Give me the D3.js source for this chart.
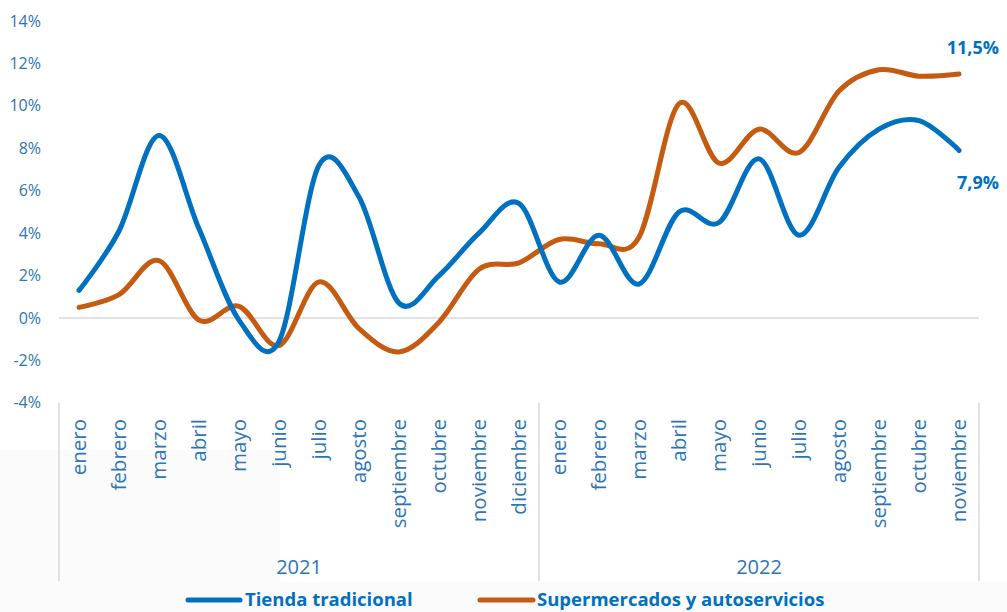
<!DOCTYPE html>
<html>
<head>
<meta charset="utf-8">
<script src="https://cdn.jsdelivr.net/npm/d3@7"></script>
<style>
    body { margin: 0; background: #fff; }
    text { font-family: "Open Sans", "Noto Sans", sans-serif; }
</style>
</head>
<body>
<script>
"use strict";

var months = ["enero", "febrero", "marzo", "abril", "mayo", "junio", "julio", "agosto",
              "septiembre", "octubre", "noviembre", "diciembre",
              "enero", "febrero", "marzo", "abril", "mayo", "junio", "julio", "agosto",
              "septiembre", "octubre", "noviembre"];
var years = ["2021", "2022"];
var yearCounts = [12, 11];

var tienda = [1.3, 4.1, 8.6, 4.2, -0.1, -1.1, 7.2, 5.7, 0.7, 2.0, 4.0, 5.4,
              1.7, 3.9, 1.6, 5.0, 4.5, 7.5, 3.9, 7.1, 8.9, 9.3, 7.9];
var superm = [0.5, 1.1, 2.7, -0.1, 0.55, -1.3, 1.7, -0.5, -1.6, -0.2, 2.3, 2.6,
              3.7, 3.5, 3.8, 10.1, 7.3, 8.9, 7.8, 10.7, 11.7, 11.4, 11.5];
var yTicks = [-4, -2, 0, 2, 4, 6, 8, 10, 12, 14];
var seriesNames = ["Tienda tradicional", "Supermercados y autoservicios"];
var endLabels = ["7,9%", "11,5%"];

var width = 1007,
    height = 612;

var blue = "#0070C0",
    orange = "#C55A11",
    axisText = "#2E75B6";

var svg = d3.select("body").append("svg")
    .attr("width", width)
    .attr("height", height);

// faint panel behind the lower left area
svg.append("rect").attr("x", 0).attr("y", 450).attr("width", 280).attr("height", 162).attr("fill", "#fbfbfb");
svg.append("rect").attr("x", 0).attr("y", 582).attr("width", width).attr("height", 30).attr("fill", "#fbfbfb");

var xScale = d3.scaleBand()
    .domain(d3.range(months.length))
    .range([59, 979]);

var yScale = d3.scaleLinear()
    .domain([-4, 14])
    .range([402.8, 21]);

function xc(i) {
    return xScale(i) + xScale.bandwidth() / 2;
}

// y labels
svg.append("g").selectAll("text")
    .data(yTicks)
    .enter().append("text")
        .attr("x", 41)
        .attr("y", function(d) { return yScale(d); })
        .attr("dy", "0.35em")
        .attr("text-anchor", "end")
        .attr("fill", axisText)
        .style("font-size", "16px")
        .text(function(d) { return d + "%"; });

// zero line
svg.append("line")
    .attr("x1", 59).attr("x2", 979)
    .attr("y1", yScale(0)).attr("y2", yScale(0))
    .attr("stroke", "#d9d9d9")
    .attr("stroke-width", 1.5);

// group dividers
var bounds = [0, yearCounts[0], months.length];
svg.append("g").selectAll("line")
    .data(bounds)
    .enter().append("line")
        .attr("x1", function(d) { return d < months.length ? xScale(d) : 979; })
        .attr("x2", function(d) { return d < months.length ? xScale(d) : 979; })
        .attr("y1", 403)
        .attr("y2", 581)
        .attr("stroke", "#d9d9d9")
        .attr("stroke-width", 1.5);

// month labels
svg.append("g").selectAll("text")
    .data(months)
    .enter().append("text")
        .attr("transform", function(d, i) {
            return "translate(" + xc(i) + ",419) rotate(-90)";
        })
        .attr("dy", "0.35em")
        .attr("text-anchor", "end")
        .attr("fill", axisText)
        .style("font-size", "20.5px")
        .text(function(d) { return d; });

// year labels
var starts = [0, yearCounts[0]];
svg.append("g").selectAll("text")
    .data(years)
    .enter().append("text")
        .attr("x", function(d, i) {
            return (xScale(starts[i]) + xScale(starts[i] + yearCounts[i] - 1) + xScale.bandwidth()) / 2;
        })
        .attr("y", 574)
        .attr("text-anchor", "middle")
        .attr("fill", axisText)
        .style("font-size", "20px")
        .text(function(d) { return d; });

var line = d3.line()
    .x(function(d, i) { return xc(i); })
    .y(function(d) { return yScale(d); })
    .curve(d3.curveCardinal.tension(0));

svg.append("path")
    .datum(superm)
    .attr("d", line)
    .attr("fill", "none")
    .attr("stroke", orange)
    .attr("stroke-width", 5)
    .attr("stroke-linecap", "round");

svg.append("path")
    .datum(tienda)
    .attr("d", line)
    .attr("fill", "none")
    .attr("stroke", blue)
    .attr("stroke-width", 5)
    .attr("stroke-linecap", "round");

// end labels
svg.append("text")
    .attr("x", 999).attr("y", 54)
    .attr("text-anchor", "end")
    .attr("fill", blue)
    .style("font-size", "18px")
    .style("font-weight", "bold")
    .text(endLabels[1]);

svg.append("text")
    .attr("x", 999).attr("y", 189)
    .attr("text-anchor", "end")
    .attr("fill", blue)
    .style("font-size", "18px")
    .style("font-weight", "bold")
    .text(endLabels[0]);

// legend
var legend = [
    { name: seriesNames[0], color: blue, x1: 188, x2: 240, tx: 245 },
    { name: seriesNames[1], color: orange, x1: 480, x2: 533, tx: 537 }
];
var lg = svg.append("g").selectAll("g")
    .data(legend)
    .enter().append("g");
lg.append("line")
    .attr("x1", function(d) { return d.x1; })
    .attr("x2", function(d) { return d.x2; })
    .attr("y1", 600).attr("y2", 600)
    .attr("stroke", function(d) { return d.color; })
    .attr("stroke-width", 5)
    .attr("stroke-linecap", "round");
lg.append("text")
    .attr("x", function(d) { return d.tx; })
    .attr("y", 600)
    .attr("dy", "0.35em")
    .attr("fill", blue)
    .style("font-size", "18.5px")
    .style("font-weight", "bold")
    .text(function(d) { return d.name; });
</script>
</body>
</html>
